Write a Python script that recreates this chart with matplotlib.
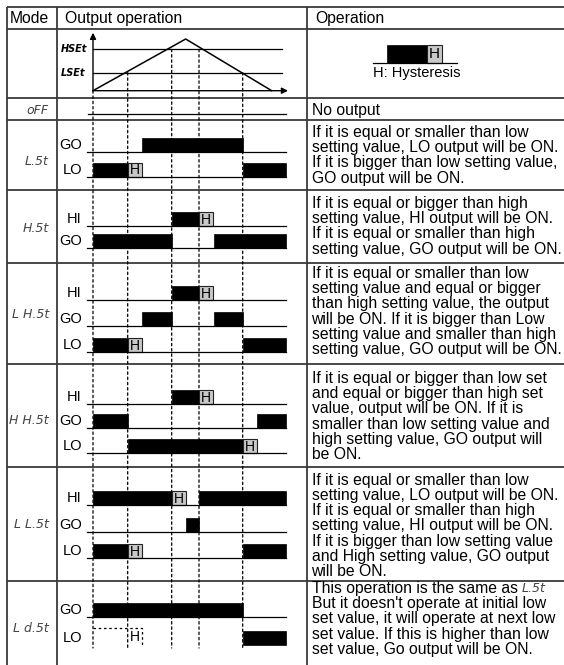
import matplotlib.pyplot as plt
from matplotlib.patches import Rectangle, ConnectionPatch

plt.rcParams['font.family'] = ['Liberation Sans', 'DejaVu Sans']

# input signal of the top diagram (time, value in % of range)
sig_t = [0.0, 9.27, 17.87]
sig_v = [0, 100, 0]
lset = 35
hset = 80

# times where the signal crosses the set values (dotted guide lines)
cross_t = [0.0, 3.47, 7.87, 10.6, 14.97]
cross_v = [0, lset, hset, hset, lset]

t_end = 19.3   # end of the output time line
hys = 1.45     # hysteresis width

# output ON intervals and hysteresis starts, per mode
LSt_GO = [(4.92, 14.97)]
LSt_LO = [(0.0, 3.47), (14.97, 19.3)]
LSt_LO_H = [3.47]

HSt_HI = [(7.87, 10.6)]
HSt_HI_H = [10.6]
HSt_GO = [(0.0, 7.87), (12.05, 19.3)]

LHSt_HI = [(7.87, 10.6)]
LHSt_HI_H = [10.6]
LHSt_GO = [(4.92, 7.87), (12.05, 14.97)]
LHSt_LO = [(0.0, 3.47), (14.97, 19.3)]
LHSt_LO_H = [3.47]

HHSt_HI = [(7.87, 10.6)]
HHSt_HI_H = [10.6]
HHSt_GO = [(0.0, 3.47), (16.42, 19.3)]
HHSt_LO = [(3.47, 14.97)]
HHSt_LO_H = [14.97]

LLSt_HI = [(0.0, 7.87), (10.6, 19.3)]
LLSt_HI_H = [7.87]
LLSt_GO = [(9.27, 10.6)]
LLSt_LO = [(0.0, 3.47), (14.97, 19.3)]
LLSt_LO_H = [3.47]

LdSt_GO = [(0.0, 14.97)]
LdSt_LO = [(14.97, 19.3)]
LdSt_LO_skip = [3.47]   # hysteresis at initial low set value, not operated

modes = ['oFF', 'L.5t', 'H.5t', 'L H.5t', 'H H.5t', 'L L.5t', 'L d.5t']

txt_off = ["No output"]
txt_lst = ["If it is equal or smaller than low",
           "setting value, LO output will be ON.",
           "If it is bigger than low setting value,",
           "GO output will be ON."]
txt_hst = ["If it is equal or bigger than high",
           "setting value, HI output will be ON.",
           "If it is equal or smaller than high",
           "setting value, GO output will be ON."]
txt_lhst = ["If it is equal or smaller than low",
            "setting value and equal or bigger",
            "than high setting value, the output",
            "will be ON. If it is bigger than Low",
            "setting value and smaller than high",
            "setting value, GO output will be ON."]
txt_hhst = ["If it is equal or bigger than low set",
            "and equal or bigger than high set",
            "value, output will be ON. If it is",
            "smaller than low setting value and",
            "high setting value, GO output will",
            "be ON."]
txt_llst = ["If it is equal or smaller than low",
            "setting value, LO output will be ON.",
            "If it is equal or smaller than high",
            "setting value, HI output will be ON.",
            "If it is bigger than low setting value",
            "and High setting value, GO output",
            "will be ON."]
txt_ldst = ["This operation is the same as",
            "But it doesn't operate at initial low",
            "set value, it will operate at next low",
            "set value. If this is higher than low",
            "set value, Go output will be ON."]

# ---- layout (pixels) ----
W, H = 564, 665
px0 = 93.0           # pixel x of t = 0
px_per_t = 10.0
row_lines = [7.3, 29, 97.5, 120, 190, 263, 363.5, 467, 581]
col_lines = [7, 57, 306.7]
bar_h = 14
seg_kw = dict(fontsize=9, color='#444', style='italic', family='DejaVu Sans')

fig = plt.figure(figsize=(W / 100, H / 100), dpi=100)
fig.patch.set_facecolor('white')

ax_tab = fig.add_axes([0, 0, 1, 1], zorder=0)
ax_tab.set_xlim(0, W)
ax_tab.set_ylim(H, 0)
ax_tab.axis('off')

tlim = (-px0 / px_per_t, (W - px0) / px_per_t)
ax = fig.add_axes([0, 0, 1, 1], zorder=2)
ax.set_xlim(*tlim)
ax.set_ylim(H, 0)
ax.axis('off')
ax.patch.set_visible(False)

# signal diagram axes: value 0 at y=90.7 px, 100 at y=39 px
ax_sig = fig.add_axes([0, 1 - 90.7 / H, 1, 51.7 / H], zorder=2)
ax_sig.set_xlim(*tlim)
ax_sig.set_ylim(0, 100)
ax_sig.axis('off')
ax_sig.patch.set_visible(False)

# table grid
for y in row_lines:
    ax_tab.plot([7, W], [y, y], color='#3a3a3a', lw=1.3, solid_capstyle='butt')
for x in col_lines:
    ax_tab.plot([x, x], [7.3, H], color='#3a3a3a', lw=1.3, solid_capstyle='butt')

ax_tab.text(10, 18.5, "Mode", fontsize=11.3, va='center')
ax_tab.text(65, 18.5, "Output operation", fontsize=11.3, va='center')
ax_tab.text(315, 18.5, "Operation", fontsize=11.3, va='center')

# top diagram
for lvl, name in [(hset, 'HSEt'), (lset, 'LSEt')]:
    ax_sig.plot([0, 18.9], [lvl, lvl], color='k', lw=0.9)
    ax_sig.text(-3.2, lvl, name, fontsize=7, fontweight='bold', style='italic',
                family='DejaVu Sans', va='center', ha='left')
ax_sig.plot(sig_t, sig_v, color='k', lw=1.1, clip_on=False)
ax_sig.annotate('', xy=(0, 112), xytext=(0, -1), annotation_clip=False,
                arrowprops=dict(arrowstyle='-|>', color='k', lw=1, mutation_scale=9,
                                shrinkA=0, shrinkB=0))
ax_sig.annotate('', xy=(19.5, 0), xytext=(0, 0), annotation_clip=False,
                arrowprops=dict(arrowstyle='-|>', color='k', lw=1, mutation_scale=9,
                                shrinkA=0, shrinkB=0))

# dotted guide lines
for t, v in zip(cross_t, cross_v):
    con = ConnectionPatch(xyA=(t, v), coordsA=ax_sig.transData,
                          xyB=(t, 648), coordsB=ax.transData,
                          color='k', lw=0.9, linestyle=(0, (2, 2.2)), zorder=1)
    fig.add_artist(con)

# hysteresis legend
ax_tab.plot([372.7, 456.7], [62.7, 62.7], color='k', lw=0.9)
ax_tab.add_patch(Rectangle((386.7, 45), 40, 17.7, fc='k', ec='k', lw=0.5))
ax_tab.add_patch(Rectangle((426.7, 45), 15.6, 17.7, fc='#c8c8c8', ec='#222', lw=0.8))
ax_tab.text(434.5, 54.2, 'H', fontsize=11, ha='center', va='center')
ax_tab.text(416.7, 73.5, 'H: Hysteresis', fontsize=10.5, ha='center', va='center')


def channel(y0, label, on, hst=(), baseline=True):
    if baseline:
        ax.plot([-0.6, t_end], [y0, y0], color='k', lw=0.9)
    for a, b in on:
        ax.add_patch(Rectangle((a, y0 - bar_h), b - a, bar_h, fc='k', ec='k', lw=0.5))
    for a in hst:
        ax.add_patch(Rectangle((a, y0 - bar_h), hys, bar_h, fc='#c8c8c8', ec='#222', lw=0.8))
        ax.text(a + hys / 2, y0 - bar_h / 2 + 0.8, 'H', fontsize=10, ha='center', va='center')
    ax_tab.text(82, y0 - 7, label, fontsize=10.5, ha='right', va='center')


# oFF
ax.plot([-0.5, t_end], [114.3, 114.3], color='k', lw=0.9)

channel(152.3, 'GO', LSt_GO)
channel(176.7, 'LO', LSt_LO, LSt_LO_H)

channel(226, 'HI', HSt_HI, HSt_HI_H)
channel(247.7, 'GO', HSt_GO)

channel(300, 'HI', LHSt_HI, LHSt_HI_H)
channel(325.7, 'GO', LHSt_GO)
channel(351.7, 'LO', LHSt_LO, LHSt_LO_H)

channel(404.3, 'HI', HHSt_HI, HHSt_HI_H)
channel(428.3, 'GO', HHSt_GO)
channel(453.3, 'LO', HHSt_LO, HHSt_LO_H)

channel(505, 'HI', LLSt_HI, LLSt_HI_H)
channel(531.7, 'GO', LLSt_GO)
channel(558.3, 'LO', LLSt_LO, LLSt_LO_H)

channel(617.3, 'GO', LdSt_GO)
channel(645, 'LO', LdSt_LO, baseline=False)
for a in LdSt_LO_skip:
    ax.plot([0, a + hys, a + hys], [628, 628, 645], color='k', lw=0.9,
            linestyle=(0, (2, 2.2)))
    ax.text(a + hys / 2, 637, 'H', fontsize=10, ha='center', va='center')

# mode labels
mode_y = [111, 161.7, 228, 315, 420, 525, 628]
for m, y in zip(modes, mode_y):
    ax_tab.text(49, y, m, ha='right', va='center', **seg_kw)

# operation texts
blocks = [(txt_off, 110), (txt_lst, 132.3), (txt_hst, 203.3), (txt_lhst, 273.3),
          (txt_hhst, 378.3), (txt_llst, 480), (txt_ldst, 588.3)]
for lines, y_first in blocks:
    for i, line in enumerate(lines):
        ax_tab.text(311.5, y_first + i * 15.3, line, fontsize=11.3, va='center')
ax_tab.text(522, 588.3, 'L.5t', va='center', **seg_kw)

fig.savefig('out.png', dpi=100)
